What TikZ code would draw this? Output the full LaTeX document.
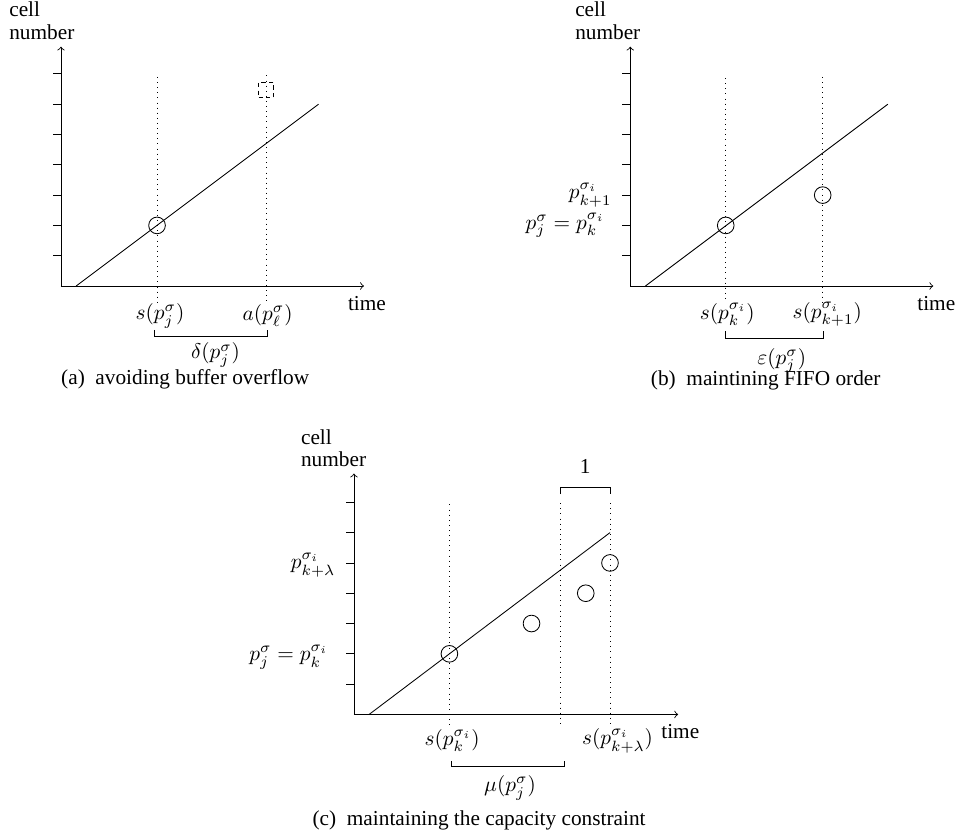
\documentclass[tikz,border=0pt]{standalone}
\usepackage[no-math]{fontspec}
\setmainfont{Liberation Serif}
\usepackage{amsmath,amssymb}
\usepackage{tikz}
\tikzset{
  axis/.style={->},
  guide/.style={dotted},
  slot/.style={draw, circle, inner sep=0pt, minimum size=2.75mm},
  ghost/.style={draw, dashed, inner sep=0pt, minimum size=2.5mm, dash pattern=on 2pt off 1.6pt},
  ylab/.style={anchor=south west, align=left, inner sep=0pt},
  cellval/.style={anchor=east},
  lab/.style={inner sep=0.5pt}
}

\begin{document}
\begin{tikzpicture}[x=5mm, y=5mm]
  \useasboundingbox (-2.013,-18.05) rectangle (29.54,9.44);

  % (a) buffer overflow
  \draw[axis] (0,0) -- (0,7.9);
  \draw[axis] (0,0) -- (10,0);
  \draw (0,1) -- (-0.27,1) (0,2) -- (-0.27,2) (0,3) -- (-0.27,3) (0,4) -- (-0.27,4)
        (0,5) -- (-0.27,5) (0,6) -- (-0.27,6) (0,7) -- (-0.27,7);
  \draw (0.5,0) -- (8.5,6);
  \draw[guide] (3.17,6.9) -- (3.17,-0.6);
  \draw[guide] (6.77,6.95) -- (6.77,-0.5);
  \node[slot] (aj) at (3.17,2) {};
  \node[ghost] (al) at (6.77,6.47) {};

  \node[ylab] (acell) at (-1.72,8.12) {cell\\[-1.5pt]number};
  \node[lab] (atime) at (10.1,-0.57) {time};
  \node[lab] (as) at (3.27,-0.98) {$s(p_j^\sigma)$};
  \node[lab] (aa) at (6.82,-0.98) {$a(p_\ell^\sigma)$};
  \draw (3.07,-1.45) -- (3.07,-1.65) -- (6.8,-1.65) -- (6.8,-1.45);
  \node[lab] (adelta) at (5.1,-2.28) {$\delta(p_j^\sigma)$};
  \node[lab] (acap) at (4.1,-3.08) {(a)\enspace avoiding buffer overflow};

  % (b) FIFO order
  \begin{scope}[shift={(18.79,0)}]
    \draw[axis] (0,0) -- (0,7.9);
    \draw[axis] (0,0) -- (10,0);
    \draw (0,1) -- (-0.27,1) (0,2) -- (-0.27,2) (0,3) -- (-0.27,3) (0,4) -- (-0.27,4)
          (0,5) -- (-0.27,5) (0,6) -- (-0.27,6) (0,7) -- (-0.27,7);
    \draw (0.5,0) -- (8.5,6);
    \draw[guide] (3.15,6.86) -- (3.15,-0.5);
    \draw[guide] (6.35,6.9) -- (6.35,-0.55);
    \node[slot] (bk) at (3.15,2) {};
    \node[slot] (bk1) at (6.35,3) {};

    \node[ylab] (bcell) at (-1.83,8.12) {cell\\[-1.5pt]number};
    \node[lab] (btime) at (10.1,-0.57) {time};
    \node[cellval] (bnext) at (-0.37,3) {$p_{k+1}^{\sigma_i}$};
    \node[cellval] (bsame) at (-0.6,2) {$p_j^\sigma = p_k^{\sigma_i}$};
    \node[lab] (bs) at (3.2,-0.94) {$s(p_k^{\sigma_i})$};
    \node[lab] (bs1) at (6.5,-0.94) {$s(p_{k+1}^{\sigma_i})$};
    \draw (3.15,-1.5) -- (3.15,-1.72) -- (6.39,-1.72) -- (6.39,-1.5);
    \node[lab] (beps) at (5.0,-2.45) {$\varepsilon(p_j^\sigma)$};
    \node[lab] (bcap) at (4.47,-3.1) {(b)\enspace maintining FIFO order};
  \end{scope}

  % (c) capacity constraint
  \begin{scope}[shift={(9.67,-14.14)}]
    \draw[axis] (0,0) -- (0,7.95);
    \draw[axis] (0,0) -- (10.7,0);
    \draw (0,1) -- (-0.27,1) (0,2) -- (-0.27,2) (0,3) -- (-0.27,3) (0,4) -- (-0.27,4)
          (0,5) -- (-0.27,5) (0,6) -- (-0.27,6) (0,7) -- (-0.27,7);
    \draw (0.5,0) -- (8.45,6);
    \draw[guide] (3.15,6.93) -- (3.15,-0.35);
    \draw[guide] (6.8,6.97) -- (6.8,-0.35);
    \draw[guide] (8.45,6.97) -- (8.45,-0.35);
    \node[slot] (ck) at (3.15,2) {};
    \node[slot] (ck1) at (5.86,3) {};
    \node[slot] (ck2) at (7.65,4) {};
    \node[slot] (ckl) at (8.45,5) {};

    \node[ylab] (ccell) at (-1.76,8.16) {cell\\[-1.5pt]number};
    \node[lab] (ctime) at (10.77,-0.57) {time};
    \node[cellval] (clast) at (-0.37,4.93) {$p_{k+\lambda}^{\sigma_i}$};
    \node[cellval] (csame) at (-0.6,1.9) {$p_j^\sigma = p_k^{\sigma_i}$};
    \draw (6.8,7.27) -- (6.8,7.48) -- (8.45,7.48) -- (8.45,7.27);
    \node[lab] (cone) at (7.63,8.17) {1};
    \node[lab] (cs) at (3.24,-0.87) {$s(p_k^{\sigma_i})$};
    \node[lab] (csl) at (8.7,-0.87) {$s(p_{k+\lambda}^{\sigma_i})$};
    \draw (3.22,-1.53) -- (3.22,-1.73) -- (6.96,-1.73) -- (6.96,-1.53);
    \node[lab] (cmu) at (5.15,-2.42) {$\mu(p_j^\sigma)$};
    \node[lab] (ccap) at (4.13,-3.5) {(c)\enspace maintaining the capacity constraint};
  \end{scope}
\end{tikzpicture}
\end{document}
